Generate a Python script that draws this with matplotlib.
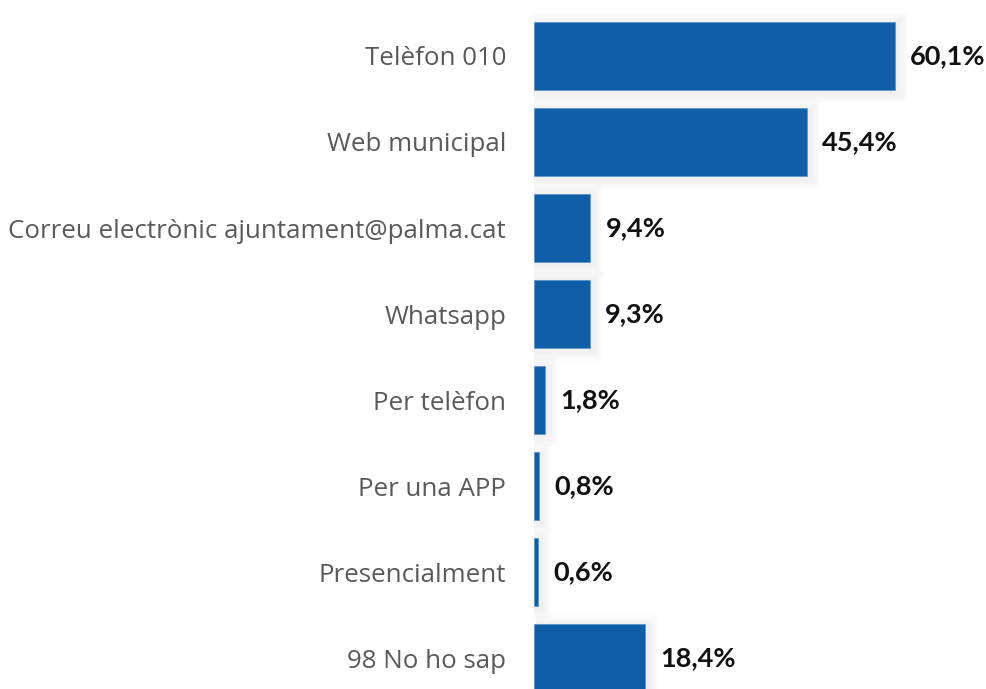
import matplotlib
matplotlib.use("Agg")
import matplotlib.pyplot as plt
import matplotlib.transforms as mtransforms

labels = ["Telèfon 010", "Web municipal", "Correu electrònic ajuntament@palma.cat",
          "Whatsapp", "Per telèfon", "Per una APP", "Presencialment", "98 No ho sap"]
values = [60.1, 45.4, 9.4, 9.3, 1.8, 0.8, 0.6, 18.4]
value_text = ["60,1%", "45,4%", "9,4%", "9,3%", "1,8%", "0,8%", "0,6%", "18,4%"]

bar_color = "#105EA8"

fig = plt.figure(figsize=(9.87, 6.89), dpi=100)
ax = fig.add_axes([534 / 987, 0, 453 / 987, 1])

pos = list(range(len(values)))
h = 0.79

# soft shadow: stacked translucent outlines, nudged right/down
shadow_tr = mtransforms.offset_copy(ax.transData, fig=fig, x=2, y=-2, units="dots")
for lw in [16, 13, 10, 7, 4]:
    ax.barh(pos, values, height=h, color="none", edgecolor=(0, 0, 0, 0.012),
            linewidth=lw, transform=shadow_tr, zorder=1)

ax.barh(pos, values, height=h, color=bar_color, edgecolor="#5A93CC",
        linewidth=0.5, zorder=3)

for p, v, t in zip(pos, values, value_text):
    ax.annotate(t, (v, p), xytext=(11, 0), textcoords="offset points",
                ha="left", va="center", fontsize=19.5, fontweight="bold",
                family="Lato", color="#111111")

ax.set_xlim(0, 453 / 6.007)
ax.set_ylim(7.36, -0.651)
ax.set_yticks(pos)
ax.set_yticklabels(labels, family="Open Sans", fontsize=18.6, color="#595959")
ax.tick_params(axis="y", length=0, pad=20)
ax.set_xticks([])
for s in ax.spines.values():
    s.set_visible(False)
ax.patch.set_alpha(0)

fig.savefig("out.png", dpi=100)
